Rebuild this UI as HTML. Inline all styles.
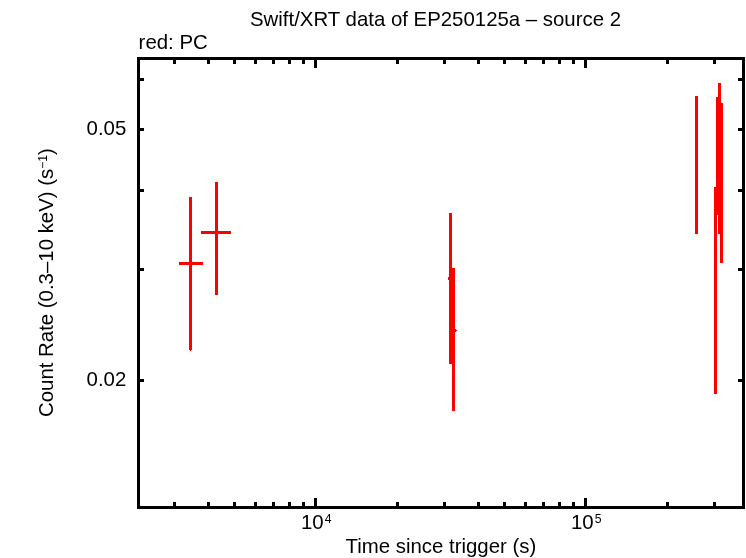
<!DOCTYPE html>
<html><head><meta charset="utf-8"><title>Swift/XRT data of EP250125a - source 2</title>
<style>
html,body{margin:0;padding:0;background:#fff;}
body{width:746px;height:558px;overflow:hidden;}
svg{display:block;will-change:transform;}
text{font-family:"Liberation Sans",sans-serif;font-size:20.4px;fill:#000;}
.sup{font-size:12.2px;}
</style></head><body>
<svg width="746" height="558" viewBox="0 0 746 558">

<g fill="#f00" shape-rendering="crispEdges">
<rect x="189" y="197" width="3" height="153"/>
<rect x="190" y="350" width="1" height="1"/>
<rect x="179" y="262" width="24" height="3"/>
<rect x="215" y="182" width="3" height="113"/>
<rect x="201" y="231" width="30" height="3"/>
<rect x="449" y="213" width="3" height="151"/>
<rect x="448" y="277" width="4" height="3"/>
<rect x="452" y="268" width="3" height="143"/>
<rect x="452" y="329" width="4" height="3"/>
<rect x="456" y="330" width="1" height="1"/>
<rect x="695" y="96" width="3" height="138"/>
<rect x="718" y="83" width="3" height="151"/>
<rect x="716" y="97" width="3" height="118"/>
<rect x="720" y="103" width="3" height="160"/>
<rect x="714" y="187" width="3" height="207"/>
</g>
<g fill="#000" shape-rendering="crispEdges">
<rect x="137" y="57" width="608" height="3"/>
<rect x="137" y="506" width="608" height="3"/>
<rect x="137" y="57" width="3" height="452"/>
<rect x="742" y="57" width="3" height="452"/>
<rect x="173" y="57" width="3" height="7"/>
<rect x="173" y="502" width="3" height="7"/>
<rect x="207" y="57" width="3" height="7"/>
<rect x="207" y="502" width="3" height="7"/>
<rect x="233" y="57" width="3" height="7"/>
<rect x="233" y="502" width="3" height="7"/>
<rect x="254" y="57" width="3" height="7"/>
<rect x="254" y="502" width="3" height="7"/>
<rect x="272" y="57" width="3" height="7"/>
<rect x="272" y="502" width="3" height="7"/>
<rect x="288" y="57" width="3" height="7"/>
<rect x="288" y="502" width="3" height="7"/>
<rect x="302" y="57" width="3" height="7"/>
<rect x="302" y="502" width="3" height="7"/>
<rect x="314" y="57" width="3" height="11"/>
<rect x="314" y="498" width="3" height="11"/>
<rect x="396" y="57" width="3" height="7"/>
<rect x="396" y="502" width="3" height="7"/>
<rect x="443" y="57" width="3" height="7"/>
<rect x="443" y="502" width="3" height="7"/>
<rect x="477" y="57" width="3" height="7"/>
<rect x="477" y="502" width="3" height="7"/>
<rect x="503" y="57" width="3" height="7"/>
<rect x="503" y="502" width="3" height="7"/>
<rect x="524" y="57" width="3" height="7"/>
<rect x="524" y="502" width="3" height="7"/>
<rect x="542" y="57" width="3" height="7"/>
<rect x="542" y="502" width="3" height="7"/>
<rect x="558" y="57" width="3" height="7"/>
<rect x="558" y="502" width="3" height="7"/>
<rect x="572" y="57" width="3" height="7"/>
<rect x="572" y="502" width="3" height="7"/>
<rect x="584" y="57" width="3" height="11"/>
<rect x="584" y="498" width="3" height="11"/>
<rect x="666" y="57" width="3" height="7"/>
<rect x="666" y="502" width="3" height="7"/>
<rect x="713" y="57" width="3" height="7"/>
<rect x="713" y="502" width="3" height="7"/>
<rect x="137" y="78" width="7" height="3"/>
<rect x="738" y="78" width="7" height="3"/>
<rect x="137" y="128" width="7" height="3"/>
<rect x="738" y="128" width="7" height="3"/>
<rect x="137" y="189" width="7" height="3"/>
<rect x="738" y="189" width="7" height="3"/>
<rect x="137" y="268" width="7" height="3"/>
<rect x="738" y="268" width="7" height="3"/>
<rect x="137" y="379" width="7" height="3"/>
<rect x="738" y="379" width="7" height="3"/>
</g>
<text x="250" y="26">Swift/XRT data of EP250125a – source 2</text>
<text x="138.6" y="49">red: PC</text>
<text x="86.6" y="135">0.05</text>
<text x="86.6" y="386">0.02</text>
<text x="301" y="529">10<tspan class="sup" dx="1" dy="-6.5">4</tspan></text>
<text x="571" y="529">10<tspan class="sup" dx="1" dy="-6.5">5</tspan></text>
<text x="345.5" y="553">Time since trigger (s)</text>
<text transform="translate(53,417) rotate(-90)">Count Rate (0.3–10 keV) (s<tspan class="sup" dy="-6.5">−1</tspan><tspan dy="6.5">)</tspan></text>
</svg></body></html>
